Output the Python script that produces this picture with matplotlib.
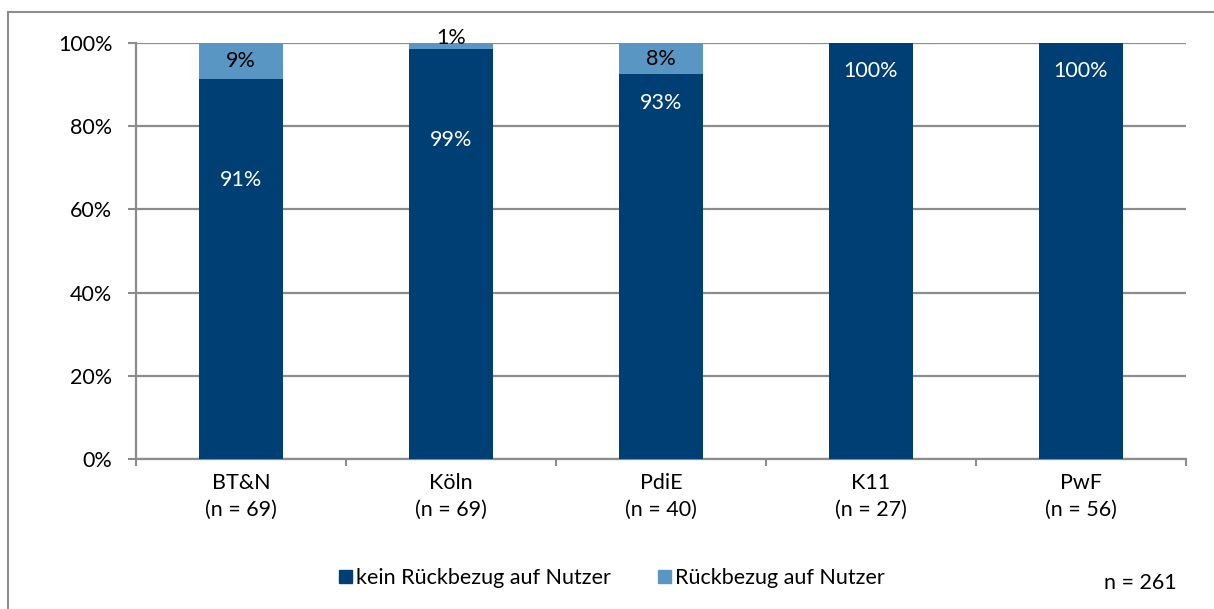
import matplotlib
matplotlib.use("Agg")
import matplotlib.pyplot as plt
from matplotlib.patches import Patch
from matplotlib.lines import Line2D

plt.rcParams['font.family'] = ['Lato', 'DejaVu Sans']

categories = ["BT&N\n(n = 69)", "Köln\n(n = 69)", "PdiE\n(n = 40)", "K11\n(n = 27)", "PwF\n(n = 56)"]
kein = [91.3, 98.6, 92.5, 100.0, 100.0]
rueck = [8.7, 1.4, 7.5, 0.0, 0.0]
kein_labels = ["91%", "99%", "93%", "100%", "100%"]
rueck_labels = ["9%", "1%", "8%", "", ""]
series_names = ["kein Rückbezug auf Nutzer", "Rückbezug auf Nutzer"]
total_label = "n = 261"
yticks = [0, 20, 40, 60, 80, 100]

# label placement (layout only)
kein_label_y = [67, 76.7, 85.6, 93.3, 93.3]

dark = "#003F74"
light = "#5A96C3"
grid = "#8C8C8C"
fs = 15.5

fig = plt.figure(figsize=(12.14, 6.09), dpi=100)
ax = fig.add_axes([136/1214, 1-459/609, 1050/1214, 416/609])

x = list(range(len(categories)))
ax.bar(x, kein, width=0.4, color=dark, zorder=3)
ax.bar(x, rueck, width=0.4, bottom=kein, color=light, zorder=3)

for i in x:
    ax.text(i, kein_label_y[i], kein_labels[i], ha="center", va="center",
            color="white", fontsize=fs, zorder=4)
    if rueck_labels[i]:
        yc = kein[i] + rueck[i] / 2
        if rueck[i] < 3:
            yc = 101.2
        ax.text(i, yc, rueck_labels[i], ha="center", va="center",
                color="black", fontsize=fs, zorder=4)

ax.set_xlim(-0.5, len(categories) - 0.5)
ax.set_ylim(0, 100)
ax.set_yticks(yticks)
ax.set_yticklabels([f"{v}%" for v in yticks], fontsize=fs)
ax.set_xticks(x)
ax.set_xticklabels(categories, fontsize=fs, linespacing=1.45)
ax.set_xticks([i - 0.5 for i in range(len(categories) + 1)], minor=True)
ax.tick_params(axis="x", which="major", length=0, pad=10)
ax.tick_params(axis="x", which="minor", length=5, width=1.5, color=grid, direction="out")
ax.tick_params(axis="y", length=6, width=1.5, color=grid, direction="out", pad=11)

ax.grid(axis="y", color=grid, linewidth=1.6, zorder=0)
for s in ["top", "right"]:
    ax.spines[s].set_visible(False)
for s in ["left", "bottom"]:
    ax.spines[s].set_color(grid)
    ax.spines[s].set_linewidth(1.6)

handles = [Patch(facecolor=dark, edgecolor=dark), Patch(facecolor=light, edgecolor=light)]
fig.legend(handles, series_names, loc="center", bbox_to_anchor=(612/1214, 1-578/609),
           ncol=2, frameon=False, fontsize=fs, handlelength=0.6, handleheight=0.6,
           handletextpad=0.2, columnspacing=2.2)

fig.text(1140/1214, 1-583/609, total_label, ha="center", va="center", fontsize=fs)

# outer chart border (top and left visible)
fig.add_artist(Line2D([8/1214, 1], [1-12/609, 1-12/609], transform=fig.transFigure, color=grid, linewidth=1.5))
fig.add_artist(Line2D([8/1214, 8/1214], [0, 1-12/609], transform=fig.transFigure, color=grid, linewidth=1.5))

fig.savefig("out.png", dpi=100)
